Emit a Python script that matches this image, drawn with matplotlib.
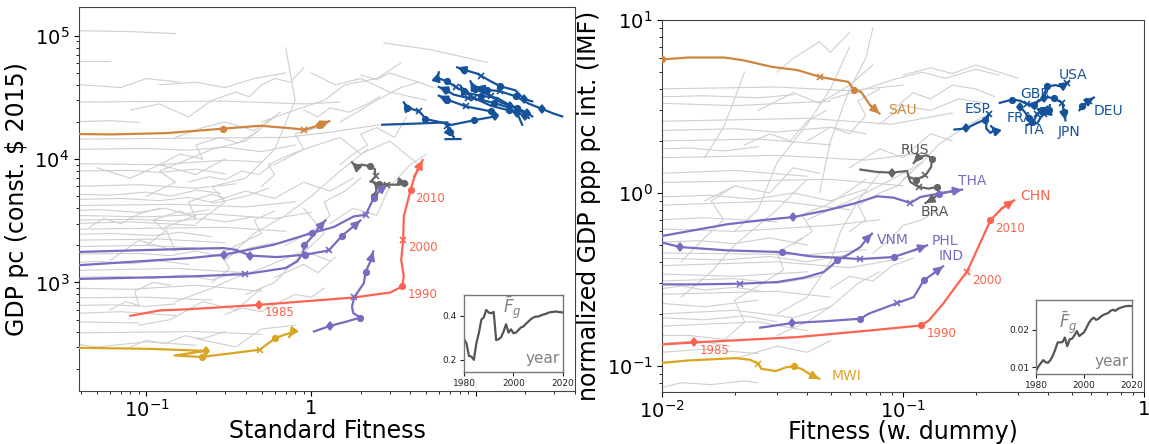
import matplotlib
matplotlib.use("Agg")
import matplotlib.pyplot as plt

# ---------------- inset series (mean fitness per year) ----------------
years = list(range(1980, 2021))
fg_std = [0.294, 0.276, 0.218, 0.215, 0.200, 0.276, 0.321, 0.382, 0.394, 0.427,
          0.415, 0.412, 0.418, 0.290, 0.294, 0.303, 0.329, 0.362, 0.324, 0.339,
          0.321, 0.324, 0.336, 0.347, 0.352, 0.364, 0.374, 0.385, 0.392, 0.397,
          0.397, 0.402, 0.406, 0.409, 0.414, 0.417, 0.418, 0.420, 0.418, 0.417, 0.415]
fg_dummy = [0.0090, 0.0102, 0.0111, 0.0119, 0.0113, 0.0112, 0.0119, 0.0131, 0.0147, 0.0166,
            0.0166, 0.0167, 0.0179, 0.0156, 0.0174, 0.0176, 0.0185, 0.0196, 0.0183, 0.0188,
            0.0193, 0.0205, 0.0218, 0.0227, 0.0232, 0.0226, 0.0229, 0.0235, 0.0239, 0.0242,
            0.0244, 0.0250, 0.0253, 0.0250, 0.0255, 0.0258, 0.0260, 0.0262, 0.0263, 0.0263, 0.0263]

# ---------------- left panel: standard fitness vs GDP pc ----------------
chn_l = ([0.080, 0.12, 0.185, 0.485, 1.81, 3.03, 3.57, 3.65, 3.52, 3.62, 3.65, 4.01, 4.24, 4.75],
         [537, 593, 608, 659, 755, 830, 929, 1119, 1527, 2218, 3428, 5570, 7245, 9800],
         [1970, 1975, 1980, 1985, 1988, 1989, 1990, 1993, 1997, 2000, 2005, 2010, 2013, 2019])
sau_l = ([0.020, 0.030, 0.0611, 0.133, 0.290, 0.489, 0.740, 0.910, 1.11, 1.29],
         [16000, 16030, 15850, 16250, 17630, 18630, 17830, 17290, 18740, 20320],
         [1980, 1985, 1986, 1988, 1990, 1994, 1997, 2000, 2010, 2019])
mwi_l = ([0.030, 0.1026, 0.231, 0.148, 0.216, 0.487, 0.606, 0.70, 0.767, 0.735],
         [297, 290, 279, 256, 249, 285, 354, 380, 393, 362],
         [1980, 1983, 1985, 1988, 1990, 2000, 2010, 2013, 2016, 2019])
tha_l = ([0.030, 0.185, 0.294, 0.593, 1.01, 1.37, 1.81, 2.14, 2.40, 2.64, 2.89],
         [1350, 1578, 1679, 2023, 2517, 2814, 3428, 3540, 4838, 5650, 6200],
         [1980, 1983, 1985, 1988, 1990, 1994, 1998, 2000, 2010, 2014, 2019])
phl_l = ([0.030, 0.185, 0.294, 0.347, 0.428, 0.622, 0.923, 1.28, 1.54, 1.86, 1.99],
         [1750, 1876, 1900, 1842, 1650, 1607, 1679, 1820, 2393, 2940, 3185],
         [1975, 1979, 1981, 1983, 1985, 1988, 1990, 2000, 2010, 2015, 2019])
vnm_l = ([0.030, 0.185, 0.399, 0.698, 0.822, 0.893, 0.91, 1.01, 1.11, 1.22],
         [1060, 1119, 1170, 1309, 1480, 1731, 1996, 2335, 2763, 3185],
         [1985, 1998, 2000, 2004, 2006, 2008, 2010, 2013, 2016, 2019])
ind_l = ([1.04, 1.31, 1.65, 1.99, 1.80, 1.77, 1.83, 2.09, 2.14, 2.29, 2.38],
         [401, 446, 483, 520, 565, 639, 762, 988, 1227, 1480, 1782],
         [1982, 1985, 1988, 1990, 1993, 1997, 2000, 2006, 2010, 2015, 2019])
rus_l = ([2.40, 2.49, 2.46, 2.34, 2.46, 2.43, 2.29, 2.04, 1.86, 1.77],
         [4980, 5570, 6200, 6720, 7245, 8320, 8730, 9010, 8830, 9400],
         [1990, 1992, 1995, 1998, 2000, 2005, 2010, 2014, 2017, 2019])
bra_l = ([2.29, 2.57, 2.89, 3.25, 3.65, 3.83],
         [6590, 6310, 6200, 6200, 6400, 6310],
         [1988, 1990, 2000, 2005, 2010, 2019])
# high income countries (blue), time runs right to left
blue_l = [
    ([21.97, 19.5, 17.4, 14.1, 12.3, 10.7, 10.18, 8.44, 7.70],
     [29380, 30720, 36070, 38900, 42700, 47480, 49270, 53100, 55430],
     [1982, 1985, 1988, 1990, 1995, 2000, 2005, 2010, 2019]),
    ([20.5, 16.22, 13.47, 10.7, 8.85, 7.52, 6.70, 5.82, 5.955],
     [22920, 27110, 31300, 32660, 34300, 38430, 42700, 45470, 50500],
     [1982, 1985, 1988, 1990, 1995, 2000, 2010, 2015, 2019]),
    ([21.97, 20.5, 17.81, 14.1, 12.3, 9.81, 9.27],
     [22200, 23600, 25970, 28840, 32660, 37030, 42700],
     [1983, 1985, 1990, 1995, 2000, 2010, 2019]),
    ([19.1, 17.81, 15.49, 12.84, 10.7, 8.93, 7.34, 6.54, 5.955],
     [19000, 23600, 26450, 28500, 30300, 31300, 33300, 36500, 38430],
     [1982, 1985, 1988, 1990, 1995, 2000, 2005, 2010, 2019]),
    ([20.95, 20.0, 15.85, 12.3, 9.71, 8.44, 8.06],
     [21550, 22490, 24830, 27110, 31300, 35400, 39390],
     [1983, 1985, 1990, 1995, 2000, 2010, 2019]),
    ([13.47, 12.3, 8.65, 6.70, 5.955],
     [22920, 24380, 26800, 30300, 32660],
     [1986, 1990, 2000, 2010, 2019]),
    ([33.4, 29.7, 25.26, 20.95, 17.4, 14.1, 11.71, 9.94],
     [22200, 23350, 25490, 28130, 32300, 35400, 36500, 38430],
     [1982, 1984, 1985, 1988, 1990, 2000, 2010, 2019]),
    ([13.15, 10.7, 9.71, 6.70, 6.92, 7.34],
     [22200, 21130, 20600, 18660, 16470, 15110],
     [1985, 1988, 1990, 2000, 2010, 2019]),
    ([6.70, 4.94, 4.72, 4.50, 4.20, 3.83, 3.65],
     [19370, 21140, 22920, 24380, 25200, 25970, 28840],
     [1988, 1990, 1995, 2000, 2005, 2010, 2019]),
]
blue_l_plain = [
    ([6.70, 4.20, 2.70], [19850, 19370, 19000]),
    ([6.54, 8.06], [14500, 14550]),
]

gray_l = [
    ([0.035, 0.08, 0.15], [110000, 108000, 104000]),
    ([0.035, 0.06], [62000, 62000]),
    ([0.035, 0.3, 0.9, 1.5], [29000, 29500, 28000, 29000]),
    ([0.035, 0.2, 0.7, 1.3, 2.6], [14500, 14800, 15000, 16500, 19000]),
    ([0.035, 0.12, 0.3, 0.5], [9200, 9000, 9800, 9500]),
    ([0.035, 0.09, 0.2, 0.35], [6000, 6200, 5800, 6300]),
    ([0.035, 0.15, 0.4, 0.8], [4200, 4300, 4100, 4500]),
    ([0.035, 0.1, 0.25, 0.6, 1.0], [3500, 3400, 3600, 3300, 3700]),
    ([0.035, 0.08, 0.2], [3000, 3100, 2900]),
    ([0.035, 0.3, 0.7], [2700, 2800, 2600]),
    ([0.035, 0.12, 0.3], [2200, 2250, 2100]),
    ([0.035, 0.1, 0.2], [1950, 2000, 1900]),
    ([0.035, 0.15, 0.4], [1250, 1300, 1200]),
    ([0.035, 0.08, 0.2, 0.5], [900, 880, 950, 850]),
    ([0.035, 0.1, 0.25], [750, 760, 720]),
    ([0.035, 0.07, 0.15], [560, 580, 540]),
    ([0.035, 0.09], [480, 470]),
    ([0.035, 0.2, 0.5], [390, 400, 380]),
    ([0.035, 0.05, 0.1, 0.2], [320, 300, 330, 310]),
    ([0.035, 0.06, 0.1, 0.14, 0.2, 0.28], [5200, 5100, 5400, 5000, 5600, 5300]),
    ([0.035, 0.07, 0.12, 0.18, 0.26, 0.4, 0.55], [4700, 4800, 4600, 4900, 4400, 5000, 5800]),
    ([0.035, 0.05, 0.09, 0.13, 0.17, 0.24], [3800, 3900, 3700, 4000, 3600, 3900]),
    ([0.035, 0.08, 0.15, 0.22, 0.3, 0.45], [3200, 3250, 3150, 3300, 3100, 3400]),
    ([0.035, 0.06, 0.11, 0.16, 0.25], [2450, 2500, 2400, 2550, 2350]),
    ([0.035, 0.09, 0.14, 0.2, 0.3, 0.42, 0.6], [1700, 1720, 1650, 1800, 1600, 1900, 2100]),
    ([0.035, 0.05, 0.08, 0.12, 0.18], [1450, 1480, 1420, 1500, 1400]),
    ([0.035, 0.07, 0.11, 0.17, 0.25, 0.35], [1100, 1120, 1080, 1150, 1050, 1200]),
    ([0.035, 0.06, 0.1, 0.15], [650, 660, 640, 670]),
    ([0.035, 0.08, 0.12, 0.2, 0.3], [8000, 8100, 7800, 8300, 7600]),
    ([0.035, 0.1, 0.18, 0.3, 0.5, 0.8], [12000, 12200, 11800, 12500, 11500, 13000]),
    ([0.035, 0.06, 0.09], [20000, 20500, 19800]),
    ([0.05, 0.08, 0.12, 0.2, 0.3], [8500, 7000, 9000, 7500, 10000]),
    ([0.1, 0.15, 0.12, 0.25, 0.4, 0.6], [5000, 6500, 8000, 12000, 14000, 22000]),
    ([0.2, 0.3, 0.25, 0.4, 0.6, 0.8, 0.7], [3000, 4500, 6000, 7000, 12000, 30000, 80000]),
    ([0.3, 0.45, 0.7, 1.0, 1.5, 2.2], [1500, 2500, 3500, 5000, 8000, 12000]),
    ([0.5, 0.8, 1.2, 1.6, 2.5, 3.5], [20000, 25000, 30000, 40000, 45000, 60000]),
    ([1.0, 1.4, 2.0, 3.0, 5.0], [50000, 40000, 45000, 35000, 30000]),
    ([2.76, 5.3, 11.7], [87400, 77100, 60800]),
    ([0.06, 0.09, 0.15, 0.13, 0.2], [1500, 2200, 1800, 2800, 3500]),
    ([0.15, 0.25, 0.35, 0.5, 0.9, 1.3], [700, 900, 1100, 1300, 1800, 1500]),
    ([0.4, 0.6, 0.8, 1.2, 0.9], [800, 1000, 1500, 2500, 4000]),
    ([0.6, 0.9, 1.5, 2.0, 3.0, 4.5], [9000, 12000, 15000, 11000, 14000, 9000]),
    ([0.08, 0.12, 0.18, 0.25, 0.35], [25000, 28000, 22000, 30000, 35000]),
    ([0.04, 0.07, 0.1, 0.16], [40000, 38000, 45000, 42000]),
    ([0.12, 0.2, 0.3, 0.45, 0.7], [40000, 42000, 38000, 45000, 50000]),
    ([1.5, 2.0, 2.5, 3.5, 4.5], [20000, 25000, 30000, 38000, 42000]),
    ([0.09, 0.14, 0.22, 0.35, 0.5], [450, 500, 700, 600, 900]),
    ([0.2, 0.35, 0.5, 0.8], [350, 300, 420, 450]),
    ([0.25, 0.4, 0.6, 0.9, 1.3, 1.8], [4500, 5500, 4800, 6500, 5500, 7000]),
    ([0.15, 0.22, 0.3, 0.45, 0.65], [15000, 18000, 20000, 17000, 24000]),
    ([1.3, 1.8, 2.5, 3.0, 4.0, 5.0], [3000, 4000, 3500, 6000, 9000, 11000]),
    ([0.1, 0.13, 0.11, 0.16, 0.2, 0.18, 0.25, 0.3], [2000, 2600, 3200, 3800, 3300, 4500, 5200, 4800]),
    ([0.25, 0.32, 0.28, 0.38, 0.5, 0.45, 0.6], [1000, 1300, 1700, 2100, 2500, 3200, 3800]),
    ([0.5, 0.6, 0.55, 0.7, 0.9, 0.8, 1.1], [6000, 7500, 9000, 10500, 12000, 16000, 18000]),
    ([0.7, 0.85, 1.1, 1.3, 1.2, 1.6, 2.0], [2000, 2300, 2800, 3500, 4500, 5500, 7000]),
    ([0.12, 0.16, 0.22, 0.2, 0.28, 0.36, 0.48], [9000, 11000, 10000, 13000, 15000, 13500, 17000]),
    ([0.06, 0.075, 0.09, 0.085, 0.11, 0.14], [600, 700, 650, 850, 1000, 950]),
    ([0.3, 0.38, 0.5, 0.65, 0.8, 1.0, 1.2], [550, 620, 580, 700, 800, 760, 900]),
    ([0.9, 1.1, 1.3, 1.7, 2.2, 2.6], [25000, 22000, 26000, 24000, 28000, 32000]),
    ([0.35, 0.42, 0.5, 0.6, 0.75, 0.9], [35000, 32000, 40000, 45000, 42000, 55000]),
    ([0.18, 0.24, 0.3, 0.38, 0.48, 0.58], [6500, 7200, 6800, 8000, 7500, 9000]),
    ([1.5, 1.8, 2.2, 2.0, 2.5, 3.2, 3.8], [9000, 11000, 13000, 16000, 18000, 15000, 22000]),
    ([0.08, 0.1, 0.13, 0.17, 0.22, 0.3], [300, 340, 320, 370, 350, 400]),
    ([0.045, 0.055, 0.07, 0.09, 0.12], [2800, 3300, 3000, 3600, 4000]),
    ([0.6, 0.75, 0.9, 1.1, 1.4], [1100, 1250, 1400, 1200, 1600]),
    ([2.0, 2.5, 3.0, 3.6, 4.5, 5.5], [48000, 44000, 50000, 46000, 42000, 38000]),
]

# ---------------- right panel: fitness (w. dummy) vs normalized GDP ----------------
sau_r = ([0.0095, 0.01, 0.01285, 0.0182, 0.0216, 0.0286, 0.0365, 0.0453, 0.0517, 0.0593, 0.0625, 0.0670, 0.0731, 0.0798],
         [5.95, 5.92, 6.07, 6.07, 5.86, 5.36, 5.13, 4.69, 4.53, 4.39, 3.96, 3.84, 3.21, 2.88],
         [1988, 1990, 1991, 1993, 1994, 1995, 1997, 2000, 2003, 2006, 2010, 2012, 2015, 2019])
mwi_r = ([0.0098, 0.01285, 0.0202, 0.0232, 0.0251, 0.0258, 0.0296, 0.0329, 0.0352, 0.0378, 0.0419, 0.0449],
         [0.1039, 0.1076, 0.111, 0.1086, 0.103, 0.0963, 0.0934, 0.0985, 0.0993, 0.0963, 0.0881, 0.0843],
         [1993, 1994, 1996, 1998, 2000, 2002, 2005, 2008, 2010, 2012, 2016, 2019])
chn_r = ([0.0098, 0.0136, 0.0365, 0.0731, 0.119, 0.128, 0.1466, 0.1686, 0.1838, 0.1937, 0.2305, 0.256, 0.289],
         [0.133, 0.1367, 0.1469, 0.1604, 0.1715, 0.1834, 0.229, 0.2987, 0.349, 0.408, 0.695, 0.811, 0.907],
         [1983, 1985, 1987, 1989, 1990, 1992, 1995, 1998, 2000, 2002, 2010, 2014, 2019])
tha_r = ([0.0098, 0.01349, 0.01857, 0.02553, 0.0351, 0.0483, 0.0624, 0.078, 0.0914, 0.1072, 0.118, 0.1406, 0.1757],
         [0.5615, 0.6083, 0.659, 0.695, 0.726, 0.794, 0.868, 0.957, 0.94, 0.875, 0.948, 0.992, 1.046],
         [1980, 1982, 1983, 1984, 1985, 1987, 1988, 1994, 1997, 2000, 2005, 2010, 2019])
vnm_r = ([0.0098, 0.01349, 0.0211, 0.030, 0.0387, 0.0468, 0.0507, 0.0532, 0.0585, 0.0665, 0.0709, 0.0743],
         [0.2964, 0.296, 0.299, 0.3055, 0.3238, 0.349, 0.382, 0.408, 0.4363, 0.487, 0.545, 0.582],
         [1995, 1998, 2000, 2002, 2004, 2006, 2008, 2010, 2012, 2015, 2017, 2019])
phl_r = ([0.0098, 0.0119, 0.01857, 0.0314, 0.0412, 0.0532, 0.0661, 0.0914, 0.1107, 0.1258],
         [0.5205, 0.487, 0.466, 0.4556, 0.4305, 0.4227, 0.415, 0.4264, 0.466, 0.498],
         [1983, 1985, 1988, 1990, 1994, 1997, 2000, 2010, 2015, 2019])
ind_r = ([0.02553, 0.0346, 0.0483, 0.0665, 0.072, 0.0944, 0.1107, 0.1219, 0.1362, 0.1466],
         [0.1664, 0.177, 0.1817, 0.1875, 0.2005, 0.2309, 0.25, 0.3126, 0.349, 0.3767],
         [1982, 1985, 1988, 1990, 1993, 2000, 2005, 2010, 2015, 2019])
rus_r = ([0.0665, 0.078, 0.090, 0.104, 0.1055, 0.1135, 0.1239, 0.1307, 0.1318, 0.1258, 0.1162, 0.1107],
         [1.366, 1.323, 1.312, 1.34, 1.238, 1.195, 1.266, 1.413, 1.581, 1.652, 1.615, 1.491],
         [1983, 1984, 1985, 1988, 1989, 1990, 2000, 2005, 2010, 2014, 2017, 2019])
bra_r = ([0.1055, 0.1072, 0.1162, 0.1276, 0.1384, 0.1407, 0.1339, 0.1239],
         [1.238, 1.158, 1.083, 1.06, 1.083, 1.0, 0.928, 0.875],
         [1995, 1998, 2000, 2005, 2010, 2014, 2017, 2019])
esp_r = ([0.1633, 0.1833, 0.2029, 0.2198, 0.227, 0.2214, 0.2214, 0.2306, 0.2394, 0.2321],
         [2.327, 2.366, 2.54, 2.66, 2.852, 2.52, 2.36, 2.223, 2.327, 2.432],
         [1983, 1985, 1988, 1990, 2000, 2004, 2008, 2012, 2016, 2019])
gbr_r = ([0.252, 0.2836, 0.307, 0.3273, 0.3488, 0.3659],
         [3.32, 3.47, 3.41, 3.26, 3.22, 3.44],
         [1988, 1990, 1995, 2000, 2010, 2019])
fra_r = ([0.307, 0.3222, 0.3325, 0.3488, 0.3603, 0.378, 0.3966],
         [3.15, 2.90, 2.70, 2.63, 2.85, 3.01, 3.15],
         [1985, 1988, 1990, 1995, 2000, 2010, 2019])
ita_r = ([0.3273, 0.3434, 0.3603, 0.3719, 0.3838, 0.4027, 0.4066],
         [2.47, 2.58, 2.52, 2.73, 2.85, 3.01, 3.22],
         [1988, 1990, 1994, 1997, 2000, 2010, 2019])
usa_r = ([0.3603, 0.3838, 0.3902, 0.3966, 0.4293, 0.458, 0.477, 0.4876],
         [3.36, 3.52, 3.93, 4.14, 4.20, 4.11, 4.30, 4.39],
         [1984, 1985, 1988, 1990, 1994, 1997, 2000, 2019])
jpn_r = ([0.3966, 0.4224, 0.458, 0.465, 0.472],
         [3.59, 3.52, 3.32, 2.94, 2.63],
         [1988, 1990, 2000, 2010, 2019])
deu_r = ([0.5395, 0.554, 0.572, 0.59, 0.619],
         [3.01, 3.176, 3.29, 3.41, 3.565],
         [1988, 1990, 1995, 2000, 2019])

gray_r = [
    ([0.01, 0.03, 0.06, 0.1], [4.0, 4.1, 3.9, 4.2]),
    ([0.01, 0.02, 0.05], [3.3, 3.2, 3.4]),
    ([0.01, 0.04, 0.09, 0.16], [2.6, 2.7, 2.5, 2.9]),
    ([0.01, 0.025, 0.05], [2.0, 2.05, 1.9]),
    ([0.01, 0.03, 0.07, 0.12], [1.6, 1.65, 1.55, 1.7]),
    ([0.01, 0.02, 0.04], [1.3, 1.35, 1.25]),
    ([0.01, 0.05, 0.1], [1.15, 1.2, 1.1]),
    ([0.01, 0.03, 0.06], [0.85, 0.9, 0.8]),
    ([0.01, 0.015, 0.03], [0.7, 0.72, 0.68]),
    ([0.01, 0.02, 0.05, 0.08], [0.62, 0.6, 0.65, 0.7]),
    ([0.01, 0.04, 0.07], [0.45, 0.44, 0.47]),
    ([0.01, 0.03, 0.06, 0.1], [0.38, 0.4, 0.37, 0.42]),
    ([0.01, 0.02, 0.04], [0.34, 0.33, 0.35]),
    ([0.01, 0.03, 0.05], [0.26, 0.27, 0.25]),
    ([0.01, 0.015, 0.025], [0.23, 0.22, 0.24]),
    ([0.01, 0.02, 0.035, 0.05], [0.2, 0.21, 0.19, 0.22]),
    ([0.01, 0.025, 0.04], [0.17, 0.18, 0.16]),
    ([0.01, 0.013, 0.02], [0.15, 0.15, 0.14]),
    ([0.01, 0.015, 0.025], [0.12, 0.125, 0.118]),
    ([0.01, 0.014, 0.02, 0.028, 0.04], [0.52, 0.53, 0.51, 0.55, 0.5]),
    ([0.01, 0.016, 0.024, 0.035, 0.05, 0.07], [0.95, 0.97, 0.92, 1.0, 0.9, 1.05]),
    ([0.01, 0.013, 0.018, 0.025], [1.8, 1.82, 1.75, 1.85]),
    ([0.01, 0.02, 0.03, 0.045], [0.31, 0.32, 0.3, 0.33]),
    ([0.01, 0.018, 0.028, 0.04, 0.06], [0.42, 0.41, 0.43, 0.4, 0.44]),
    ([0.01, 0.012, 0.015, 0.02, 0.026], [0.28, 0.29, 0.275, 0.285, 0.27]),
    ([0.01, 0.015, 0.022, 0.03], [0.19, 0.185, 0.195, 0.18]),
    ([0.01, 0.014, 0.019], [0.135, 0.14, 0.13]),
    ([0.01, 0.02, 0.03, 0.05, 0.07], [2.3, 2.35, 2.25, 2.4, 2.2]),
    ([0.01, 0.015, 0.025, 0.035], [3.6, 3.65, 3.55, 3.7]),
    ([0.01, 0.012, 0.016, 0.022, 0.025], [0.075, 0.08, 0.078, 0.082, 0.08]),
    ([0.012, 0.016, 0.02, 0.03, 0.04], [0.25, 0.35, 0.5, 0.8, 1.2]),
    ([0.02, 0.025, 0.03, 0.04, 0.05, 0.06], [0.6, 0.8, 1.5, 2.5, 4.0, 7.0]),
    ([0.045, 0.05, 0.06, 0.07, 0.075], [1.0, 2.0, 4.0, 6.0, 9.0]),
    ([0.03, 0.04, 0.05, 0.055, 0.065, 0.08], [0.2, 0.25, 0.4, 0.6, 0.9, 1.3]),
    ([0.05, 0.07, 0.09, 0.12, 0.15, 0.2, 0.25], [3.5, 4.0, 4.5, 5.0, 4.6, 5.2, 4.8]),
    ([0.08, 0.1, 0.13, 0.17, 0.22], [2.5, 3.2, 3.0, 3.5, 3.3]),
    ([0.06, 0.08, 0.1, 0.13, 0.16], [1.4, 1.8, 1.6, 2.2, 2.0]),
    ([0.04, 0.06, 0.08, 0.1, 0.12], [0.7, 0.9, 1.1, 1.3, 1.5]),
    ([0.03, 0.04, 0.05, 0.065, 0.08], [0.15, 0.18, 0.22, 0.3, 0.35]),
    ([0.015, 0.02, 0.028, 0.035, 0.045], [0.9, 1.1, 1.0, 1.4, 1.3]),
    ([0.025, 0.035, 0.045, 0.06, 0.075], [3.0, 3.8, 3.3, 4.2, 5.5]),
    ([0.015, 0.018, 0.02, 0.022], [1.6, 2.4, 3.5, 5.0]),
    ([0.02, 0.03, 0.04, 0.05], [0.11, 0.13, 0.12, 0.14]),
    ([0.1, 0.12, 0.14, 0.18, 0.22], [1.2, 1.5, 1.9, 2.4, 2.8]),
    ([0.018, 0.022, 0.02, 0.026, 0.032, 0.03, 0.038], [0.14, 0.18, 0.24, 0.3, 0.36, 0.45, 0.55]),
    ([0.035, 0.042, 0.038, 0.048, 0.058, 0.07], [0.5, 0.6, 0.75, 0.85, 1.0, 1.2]),
    ([0.06, 0.07, 0.065, 0.08, 0.095, 0.11], [0.6, 0.7, 0.85, 1.0, 1.1, 1.35]),
    ([0.022, 0.028, 0.034, 0.04, 0.048], [1.9, 2.2, 2.0, 2.6, 3.0]),
    ([0.09, 0.11, 0.13, 0.16, 0.2, 0.24], [3.0, 3.8, 3.5, 4.2, 4.0, 3.6]),
    ([0.04, 0.05, 0.06, 0.07, 0.065, 0.08], [2.0, 2.4, 2.2, 2.8, 3.4, 4.0]),
    ([0.012, 0.015, 0.018, 0.016, 0.02], [0.4, 0.55, 0.7, 0.9, 1.1]),
    ([0.05, 0.06, 0.075, 0.09, 0.11], [0.28, 0.33, 0.31, 0.38, 0.42]),
    ([0.075, 0.09, 0.1, 0.12, 0.14], [0.45, 0.55, 0.65, 0.7, 0.8]),
    ([0.03, 0.035, 0.045, 0.05, 0.06], [5.0, 6.0, 7.5, 6.5, 8.5]),
    ([0.1, 0.13, 0.16, 0.2, 0.25, 0.3], [4.8, 5.3, 4.9, 5.5, 5.0, 4.6]),
]

# colours
C_BLUE = "#15529a"
C_SAU = "#cd853f"
C_MWI = "#daa520"
C_PUR = "#776cbf"
C_CHN = "#fa6450"
C_DARK = "#666666"
C_GRAY = "#cfcfcf"

MARKS = {1985: ("d", 4.5), 1990: ("o", 4), 2000: ("x", 4.5), 2010: ("o", 4)}


def draw_traj(ax, traj, color, arrow=True):
    x, y, yr = traj
    ax.plot(x, y, color=color, lw=1.6, zorder=3)
    for xi, yi, t in zip(x, y, yr):
        if t in MARKS:
            m, s = MARKS[t]
            ax.plot(xi, yi, marker=m, ms=s, color=color, mew=1.2, zorder=4)
    if arrow:
        ax.annotate("", xy=(x[-1], y[-1]), xytext=(x[-2], y[-2]),
                    arrowprops=dict(arrowstyle="-|>", color=color, lw=1.6,
                                    mutation_scale=12, shrinkA=0, shrinkB=0),
                    zorder=4)


def label_end(ax, traj, text, color, dx, dy, size=10):
    x, y, _ = traj
    ax.annotate(text, xy=(x[-1], y[-1]), xytext=(dx, dy), textcoords="offset pixels",
                ha="left", va="center", fontsize=size, color=color, zorder=5)


def label_years(ax, traj, color):
    x, y, yr = traj
    for xi, yi, t in zip(x, y, yr):
        if t in (1985, 1990, 2000, 2010):
            ax.annotate(str(t), xy=(xi, yi), xytext=(5, -8), textcoords="offset pixels",
                        ha="left", va="center", fontsize=8.5, color=color, zorder=5)


def inset(fig, rect, series, ylim, yticks, ylabels):
    ia = fig.add_axes(rect)
    ia.plot(years, series, color="#555555", lw=1.6)
    ia.set_xlim(1980, 2020)
    ia.set_ylim(*ylim)
    ia.set_xticks([1980, 2000, 2020])
    ia.set_yticks(yticks)
    ia.set_yticklabels(ylabels)
    ia.tick_params(labelsize=6.5, length=3, width=0.8, pad=2, colors="#222222")
    for s in ia.spines.values():
        s.set_color("#777777")
        s.set_linewidth(1.0)
    ia.text(0.97, 0.17, "year", transform=ia.transAxes, ha="right", va="center",
            fontsize=11, color="#808080")
    return ia


fig = plt.figure(figsize=(11.49, 4.44), dpi=100)
ax1 = fig.add_axes([0.0688, 0.1194, 0.4317, 0.8649])
ax2 = fig.add_axes([0.5762, 0.1171, 0.4195, 0.8378])

# ---- left panel
for gx, gy in gray_l:
    ax1.plot(gx, gy, color=C_GRAY, lw=0.8, zorder=1)
for bt in blue_l:
    draw_traj(ax1, bt, C_BLUE)
for bx, by in blue_l_plain:
    ax1.plot(bx, by, color=C_BLUE, lw=1.6, zorder=3)
draw_traj(ax1, sau_l, C_SAU)
draw_traj(ax1, mwi_l, C_MWI)
draw_traj(ax1, rus_l, C_DARK)
draw_traj(ax1, bra_l, C_DARK)
for t in (tha_l, phl_l, vnm_l, ind_l):
    draw_traj(ax1, t, C_PUR)
draw_traj(ax1, chn_l, C_CHN)
label_years(ax1, chn_l, C_CHN)

ax1.set_xscale("log")
ax1.set_yscale("log")
ax1.set_xlim(0.039, 40)
ax1.set_ylim(132, 1.71e5)
ax1.set_xticks([0.1, 1, 10])
ax1.set_xticklabels([r"$10^{-1}$", "1", ""])
ax1.tick_params(labelsize=14)
ax1.tick_params(axis="x", pad=2)
ax1.set_xlabel("Standard Fitness", fontsize=17, labelpad=-1)
ax1.set_ylabel("GDP pc (const. $ 2015)", fontsize=17)

# ---- right panel
for gx, gy in gray_r:
    ax2.plot(gx, gy, color=C_GRAY, lw=0.8, zorder=1)
for t, name, dx, dy in [(esp_r, "ESP", -27, 17), (gbr_r, "GBR", -19, 6),
                        (fra_r, "FRA", -41, -11), (ita_r, "ITA", -26, -25),
                        (usa_r, "USA", -10, 7), (jpn_r, "JPN", -8, -12),
                        (deu_r, "DEU", 0, -13)]:
    draw_traj(ax2, t, C_BLUE)
    label_end(ax2, t, name, C_BLUE, dx, dy)
draw_traj(ax2, sau_r, C_SAU)
label_end(ax2, sau_r, "SAU", C_SAU, 9, 4)
draw_traj(ax2, mwi_r, C_MWI)
label_end(ax2, mwi_r, "MWI", C_MWI, 12, 3)
draw_traj(ax2, rus_r, C_DARK)
label_end(ax2, rus_r, "RUS", "#555555", -13, 13)
draw_traj(ax2, bra_r, C_DARK)
label_end(ax2, bra_r, "BRA", "#555555", -5, -9)
for t, name, dx, dy in [(tha_r, "THA", -4, 9), (vnm_r, "VNM", 5, -6),
                        (phl_r, "PHL", 5, 4), (ind_r, "IND", -4, 10)]:
    draw_traj(ax2, t, C_PUR)
    label_end(ax2, t, name, C_PUR, dx, dy)
draw_traj(ax2, chn_r, C_CHN)
label_end(ax2, chn_r, "CHN", C_CHN, 6, 4)
label_years(ax2, chn_r, C_CHN)

ax2.set_xscale("log")
ax2.set_yscale("log")
ax2.set_xlim(0.01, 1)
ax2.set_ylim(0.0707, 10)
ax2.set_xticks([0.01, 0.1, 1])
ax2.set_xticklabels([r"$10^{-2}$", r"$10^{-1}$", "1"])
ax2.tick_params(labelsize=14)
ax2.tick_params(axis="x", pad=2)
ax2.set_xlabel("Fitness (w. dummy)", fontsize=17, labelpad=-1)
ax2.set_ylabel("normalized GDP ppp pc int. (IMF)", fontsize=17)

for a in (ax1, ax2):
    for s in a.spines.values():
        s.set_color("#444444")

# ---- insets
ia1 = inset(fig, [0.4038, 0.1622, 0.0862, 0.1734], fg_std, (0.145, 0.495),
            [0.2, 0.4], ["0.2", "0.4"])
ia1.text(0.39, 0.83, r"$\bar{F}_g$", transform=ia1.transAxes, ha="left", va="center",
         fontsize=12, color="#808080")
ia2 = inset(fig, [0.9017, 0.1577, 0.0836, 0.1667], fg_dummy, (0.0082, 0.0279),
            [0.01, 0.02], ["0.01", "0.02"])
ia2.text(0.24, 0.69, r"$\bar{F}_g$", transform=ia2.transAxes, ha="left", va="center",
         fontsize=12, color="#808080")

fig.savefig("out.png", dpi=100)
